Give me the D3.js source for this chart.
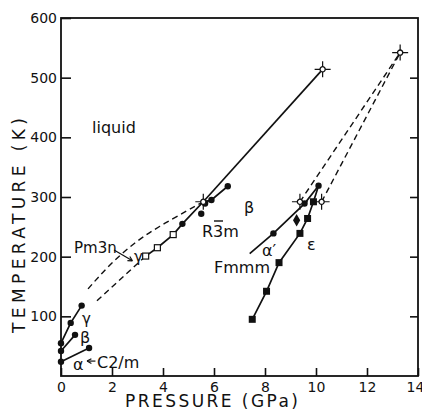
<!DOCTYPE html>
<html>
<head>
<meta charset="utf-8">
<script src="https://cdn.jsdelivr.net/npm/d3@7"></script>
<style>
  body { margin: 0; background: #fff; }
  text { font-family: "DejaVu Sans", sans-serif; fill: #111; }
</style>
</head>
<body>
<div id="chart"></div>
<script>
// pressure (GPa), temperature (K)
const alphaLow = [[0, 24], [1.1, 47]];
const betaLow = [[0, 42], [0.55, 69]];
const gammaLow = [[0, 55], [0.38, 89], [0.81, 118]];

const gammaLine = [[3.32, 201], [3.78, 215], [4.4, 237], [4.76, 255], [5.58, 292], [5.9, 295], [6.54, 318]];
const pm3nSquares = [[3.32, 201], [3.78, 215], [4.4, 237]];
const r3mDots = [[4.76, 255], [5.5, 272], [5.65, 289], [5.9, 295], [6.54, 318]];

const meltLine = [[5.58, 292], [10.26, 514]];
const dashUpper = [[1.06, 146], [1.92, 186], [2.9, 223], [3.88, 251], [4.86, 275], [5.58, 292]];
const dashLower = [[1.41, 126], [3.32, 201]];

const alphaPrimeLine = [[7.4, 205], [8.33, 239], [9.55, 289], [10.1, 319]];
const alphaPrimeDots = [[8.33, 239], [9.55, 289], [10.1, 319]];
const epsDiamond = [[9.24, 261]];
const fmmmLine = [[7.5, 95], [8.06, 142], [8.55, 190], [9.37, 239], [9.67, 264], [9.9, 292], [10.1, 319]];
const fmmmSquares = [[7.5, 95], [8.06, 142], [8.55, 190], [9.37, 239], [9.67, 264], [9.9, 292]];

const dashRight = [
  [[9.37, 292], [13.3, 542]],
  [[10.22, 292], [13.3, 542]]
];
const triplePoints = [[5.58, 292], [9.37, 292], [10.22, 292], [10.26, 514], [13.3, 542]];

const xTicks = [0, 2, 4, 6, 8, 10, 12, 14];
const yTicks = [100, 200, 300, 400, 500, 600];

const width = 422, height = 418;
const margin = {top: 18, right: 4, bottom: 42, left: 61};

const svg = d3.select("#chart").append("svg")
  .attr("width", width)
  .attr("height", height);

const x = d3.scaleLinear().domain([0, 14]).range([margin.left, width - margin.right]);
const y = d3.scaleLinear().domain([0, 600]).range([height - margin.bottom, margin.top]);

const line = d3.line().x(d => x(d[0])).y(d => y(d[1]));
const curve = d3.line().x(d => x(d[0])).y(d => y(d[1])).curve(d3.curveNatural);

// axes, ticks pointing inward
svg.append("g")
  .attr("transform", `translate(0,${y(0)})`)
  .call(d3.axisBottom(x).tickValues(xTicks).tickSize(-8).tickPadding(6).tickFormat(d3.format("d")))
  .call(g => g.select(".domain").remove())
  .call(g => g.selectAll("line").attr("stroke", "#111").attr("stroke-width", 1.6))
  .call(g => g.selectAll("text").style("font-size", "14px").style("font-family", "DejaVu Sans"))
  .call(g => g.selectAll("text").filter(d => d === 14).attr("dx", -3));

svg.append("g")
  .attr("transform", `translate(${x(0)},0)`)
  .call(d3.axisLeft(y).tickValues(yTicks).tickSize(-10).tickPadding(4))
  .call(g => g.select(".domain").remove())
  .call(g => g.selectAll("line").attr("stroke", "#111").attr("stroke-width", 1.6))
  .call(g => g.selectAll("text").style("font-size", "14px").style("font-family", "DejaVu Sans"));

svg.append("g")
  .attr("transform", `translate(${x(14)},0)`)
  .call(d3.axisRight(y).tickValues(yTicks.slice(0, 5)).tickSize(-8).tickFormat(""))
  .call(g => g.select(".domain").remove())
  .call(g => g.selectAll("line").attr("stroke", "#111").attr("stroke-width", 1.6));

svg.append("rect")
  .attr("x", x(0)).attr("y", y(600))
  .attr("width", x(14) - x(0)).attr("height", y(0) - y(600))
  .attr("fill", "none").attr("stroke", "#111").attr("stroke-width", 1.8);

// axis titles
svg.append("text")
  .attr("x", 125).attr("y", 407)
  .attr("textLength", 173).attr("lengthAdjust", "spacing")
  .style("font-size", "17px")
  .text("PRESSURE  (GPa)");

svg.append("text")
  .attr("transform", "translate(25,333) rotate(-90)")
  .attr("textLength", 215).attr("lengthAdjust", "spacing")
  .style("font-size", "17px")
  .text("TEMPERATURE  (K)");

// solid phase boundaries
const solid = [alphaLow, betaLow, gammaLow, gammaLine, meltLine, alphaPrimeLine, fmmmLine];
svg.append("g").selectAll("path").data(solid).join("path")
  .attr("d", line)
  .attr("fill", "none").attr("stroke", "#111").attr("stroke-width", 1.7);

// dashed boundaries
svg.append("g").selectAll("path").data([dashLower].concat(dashRight)).join("path")
  .attr("d", line)
  .attr("fill", "none").attr("stroke", "#111").attr("stroke-width", 1.4)
  .attr("stroke-dasharray", "6,4");
svg.append("path").datum(dashUpper)
  .attr("d", curve)
  .attr("fill", "none").attr("stroke", "#111").attr("stroke-width", 1.4)
  .attr("stroke-dasharray", "6,4");

// markers
const dots = alphaLow.concat(betaLow, gammaLow, r3mDots, alphaPrimeDots);
svg.append("g").selectAll("circle").data(dots).join("circle")
  .attr("cx", d => x(d[0])).attr("cy", d => y(d[1])).attr("r", 3.2)
  .attr("fill", "#111");

svg.append("g").selectAll("path").data(epsDiamond).join("path")
  .attr("transform", d => `translate(${x(d[0])},${y(d[1])})`)
  .attr("d", d3.symbol(d3.symbolDiamond, 45))
  .attr("fill", "#111");

svg.append("g").selectAll("rect").data(fmmmSquares).join("rect")
  .attr("x", d => x(d[0]) - 3.5).attr("y", d => y(d[1]) - 3.5)
  .attr("width", 7).attr("height", 7)
  .attr("fill", "#111");

svg.append("g").selectAll("rect").data(pm3nSquares).join("rect")
  .attr("x", d => x(d[0]) - 3).attr("y", d => y(d[1]) - 3)
  .attr("width", 6).attr("height", 6)
  .attr("fill", "#fff").attr("stroke", "#111").attr("stroke-width", 1.2);

const tp = svg.append("g").selectAll("g").data(triplePoints).join("g")
  .attr("transform", d => `translate(${x(d[0])},${y(d[1])})`);
tp.append("path")
  .attr("d", "M-8,0H8M0,-8V8")
  .attr("stroke", "#111").attr("stroke-width", 1.2);
tp.append("circle")
  .attr("r", 2.6)
  .attr("fill", "#fff").attr("stroke", "#111").attr("stroke-width", 1.3);

// labels
const lab = (t, px, py, size) => svg.append("text")
  .attr("x", px).attr("y", py)
  .style("font-size", (size || 15) + "px")
  .text(t);

lab("liquid", 92, 133, 16);
lab("Pm3n", 74, 253, 15);
lab("γ", 134, 262, 15);
lab("R3m", 202, 237, 16);
svg.append("path").attr("d", "M214,221H223").attr("stroke", "#111").attr("stroke-width", 1.4);
lab("β", 244, 213, 16);
lab("α′", 262, 256, 16);
lab("ε", 307, 250, 16);
lab("Fmmm", 214, 273, 16);
lab("γ", 82, 324, 15);
lab("β", 80, 343, 16);
lab("α", 73, 370, 16);
lab("C2/m", 97, 368, 16);

// annotation arrows
const arrow = (x1, y1, x2, y2) => {
  svg.append("line")
    .attr("x1", x(x1)).attr("y1", y(y1)).attr("x2", x(x2)).attr("y2", y(y2))
    .attr("stroke", "#111").attr("stroke-width", 1.2);
  const a = Math.atan2(y(y2) - y(y1), x(x2) - x(x1));
  const h = 5;
  svg.append("path")
    .attr("d", `M${x(x2)},${y(y2)}L${x(x2) - h * Math.cos(a - 0.5)},${y(y2) - h * Math.sin(a - 0.5)}M${x(x2)},${y(y2)}L${x(x2) - h * Math.cos(a + 0.5)},${y(y2) - h * Math.sin(a + 0.5)}`)
    .attr("stroke", "#111").attr("stroke-width", 1.2).attr("fill", "none");
};
arrow(2.08, 211, 2.8, 193);
arrow(1.35, 25, 1.02, 25);
</script>
</body>
</html>
